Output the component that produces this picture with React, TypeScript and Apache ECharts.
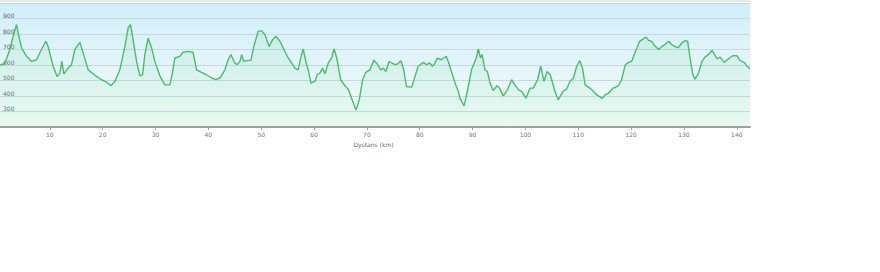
import React, { useEffect, useRef } from "react";
import * as echarts from "echarts";

const distanceKm: number[] = [
  0, 1.48, 2.42, 3.05, 3.69, 4.0, 4.64, 5.58, 6.53, 7.48, 8.42, 9.24, 9.67, 10.62, 11.38, 11.89, 12.27, 12.65, 13.46, 14.1,
  14.73, 15.68, 16.3, 17.25, 18.2, 19.46, 20.73, 21.55, 22.3, 23.25, 24.2, 24.82, 25.27, 25.65, 26.41, 27.04, 27.55, 27.98, 28.6, 29.25,
  29.87, 30.82, 31.77, 32.7, 33.2, 33.66, 34.6, 35.2, 36.2, 37.1, 37.77, 38.7, 39.66, 40.6, 41.4, 42.18, 43.13, 43.75, 44.26, 45.0,
  45.5, 45.97, 46.3, 46.7, 47.54, 48.05, 48.6, 49.43, 50.07, 50.7, 51.5, 52.16, 52.78, 53.54, 54.17, 54.92, 55.75, 56.38, 57.0, 57.46,
  57.95, 58.5, 58.9, 59.4, 60.17, 60.6, 61.1, 61.6, 62.06, 62.7, 63.3, 63.8, 64.3, 65.03, 65.85, 66.47, 67.1, 67.93, 68.55, 69.2,
  69.8, 70.6, 71.3, 71.96, 72.6, 73.1, 73.6, 74.2, 74.7, 75.3, 75.9, 76.4, 76.9, 77.5, 78.5, 79.1, 79.7, 80.7, 81.3, 81.9,
  82.4, 82.9, 83.3, 84.1, 85.0, 85.4, 86.0, 86.7, 87.3, 87.6, 88.4, 89.0, 89.8, 90.7, 91.1, 91.5, 91.8, 92.35, 92.8, 93.3,
  93.9, 94.6, 95.1, 95.8, 96.6, 97.4, 98.0, 98.7, 99.3, 100.1, 100.9, 101.5, 102.3, 102.9, 103.5, 104.1, 104.7, 105.6, 106.2, 107.1,
  107.8, 108.4, 109.1, 109.7, 110.3, 110.8, 111.3, 112.2, 112.9, 113.5, 114.5, 115.1, 115.7, 116.6, 117.6, 118.2, 118.9, 119.5, 120.1, 120.7,
  121.1, 121.6, 122.3, 122.8, 123.3, 123.9, 124.3, 125.2, 125.8, 126.4, 127.1, 127.7, 128.3, 128.9, 129.6, 130.2, 130.7, 131.2, 131.7, 132.1,
  132.7, 133.4, 134.0, 134.6, 135.3, 135.9, 136.3, 136.8, 137.6, 138.4, 139.2, 140.0, 140.6, 141.4, 142.0, 142.5,
];

const elevationM: number[] = [
  595, 608, 700, 785, 861, 807, 710, 656, 623, 634, 700, 753, 720, 592, 526, 548, 623, 543, 580, 602,
  700, 746, 678, 569, 543, 511, 490, 466, 494, 569, 720, 839, 861, 785, 623, 530, 537, 667, 774, 710,
  623, 530, 472, 472, 548, 645, 656, 682, 688, 682, 569, 552, 537, 516, 505, 516, 569, 634, 667, 613,
  602, 623, 667, 623, 630, 630, 720, 817, 822, 796, 720, 764, 785, 753, 710, 656, 613, 580, 569, 645,
  703, 613, 569, 483, 494, 537, 548, 580, 543, 613, 645, 703, 645, 505, 466, 444, 386, 310, 375, 505,
  552, 569, 630, 608, 569, 580, 558, 623, 613, 602, 608, 628, 580, 461, 457, 526, 592, 617, 602, 613,
  592, 613, 645, 634, 656, 623, 558, 483, 429, 386, 336, 429, 569, 645, 703, 645, 667, 569, 558, 483,
  435, 466, 451, 401, 440, 505, 472, 440, 429, 386, 451, 451, 505, 592, 494, 558, 537, 429, 375, 429,
  444, 494, 516, 592, 628, 580, 472, 451, 429, 407, 386, 407, 418, 451, 466, 505, 602, 617, 623, 678,
  710, 753, 768, 781, 759, 753, 731, 700, 720, 731, 753, 731, 720, 710, 742, 757, 753, 634, 537, 509,
  543, 623, 652, 667, 694, 660, 639, 652, 617, 639, 660, 660, 630, 617, 592, 574,
];

const xAxisTitle = "Dystans (km)";
const yTickValues = [300, 400, 500, 600, 700, 800, 900];

export default function App() {
  const ref = useRef<HTMLDivElement>(null);

  useEffect(() => {
    if (!ref.current) return;
    const chart = echarts.init(ref.current, undefined, { renderer: "svg" });
    const data = distanceKm.map((d, i) => [d, elevationM[i]]);
    chart.setOption({
      animation: false,
      grid: {
        left: -3,
        right: 130,
        top: 3,
        bottom: 145,
        outerBoundsMode: "none",
        containLabel: false,
        show: true,
        borderWidth: 0,
        backgroundColor: new echarts.graphic.LinearGradient(0, 0, 0, 1, [
          { offset: 0, color: "#d0eefa" },
          { offset: 0.5, color: "#e4f5fa" },
          { offset: 1, color: "#effbf5" },
        ]),
      },
      graphic: [
        { type: "rect", left: 0, top: 0, shape: { width: 750, height: 2 }, style: { fill: "#e6e8e8" } },
      ],
      xAxis: {
        type: "value",
        min: 0,
        max: 142.5,
        interval: 10,
        name: xAxisTitle,
        nameLocation: "middle",
        nameGap: 14,
        nameTextStyle: { fontSize: 6, color: "#666", fontFamily: "DejaVu Sans" },
        axisLine: { show: true, lineStyle: { color: "#a0a0a0", width: 2 } },
        axisTick: { show: true, length: 3, lineStyle: { color: "#a0a0a0" } },
        axisLabel: {
          fontSize: 6,
          color: "#777",
          margin: 4,
          fontFamily: "DejaVu Sans",
          showMaxLabel: false,
          formatter: (v: number) => (v % 10 === 0 ? String(v) : ""),
        },
        splitLine: { show: false },
      },
      yAxis: {
        type: "value",
        min: 200,
        max: 1000,
        interval: 100,
        axisLine: { show: false },
        axisTick: { show: false },
        axisLabel: {
          inside: true,
          margin: 6,
          fontSize: 6,
          color: "#666",
          verticalAlign: "bottom",
          fontFamily: "DejaVu Sans",
          formatter: (v: number) => (yTickValues.includes(v) ? String(v) : ""),
        },
        splitLine: { show: true, lineStyle: { color: "#c8d8de", width: 1 } },
      },
      series: [
        {
          type: "line",
          data,
          showSymbol: false,
          smooth: false,
          lineStyle: { color: "#4cbb6c", width: 1.4 },
          areaStyle: {
            color: new echarts.graphic.LinearGradient(0, 0, 0, 1, [
              { offset: 0, color: "rgba(120,210,150,0.25)" },
              { offset: 1, color: "rgba(150,230,180,0.12)" },
            ]),
          },
        },
      ],
    });
    return () => chart.dispose();
  }, []);

  return (
    <div
      ref={ref}
      style={{ position: "fixed", left: 0, top: 0, width: 880, height: 272, background: "#fff" }}
    />
  );
}
